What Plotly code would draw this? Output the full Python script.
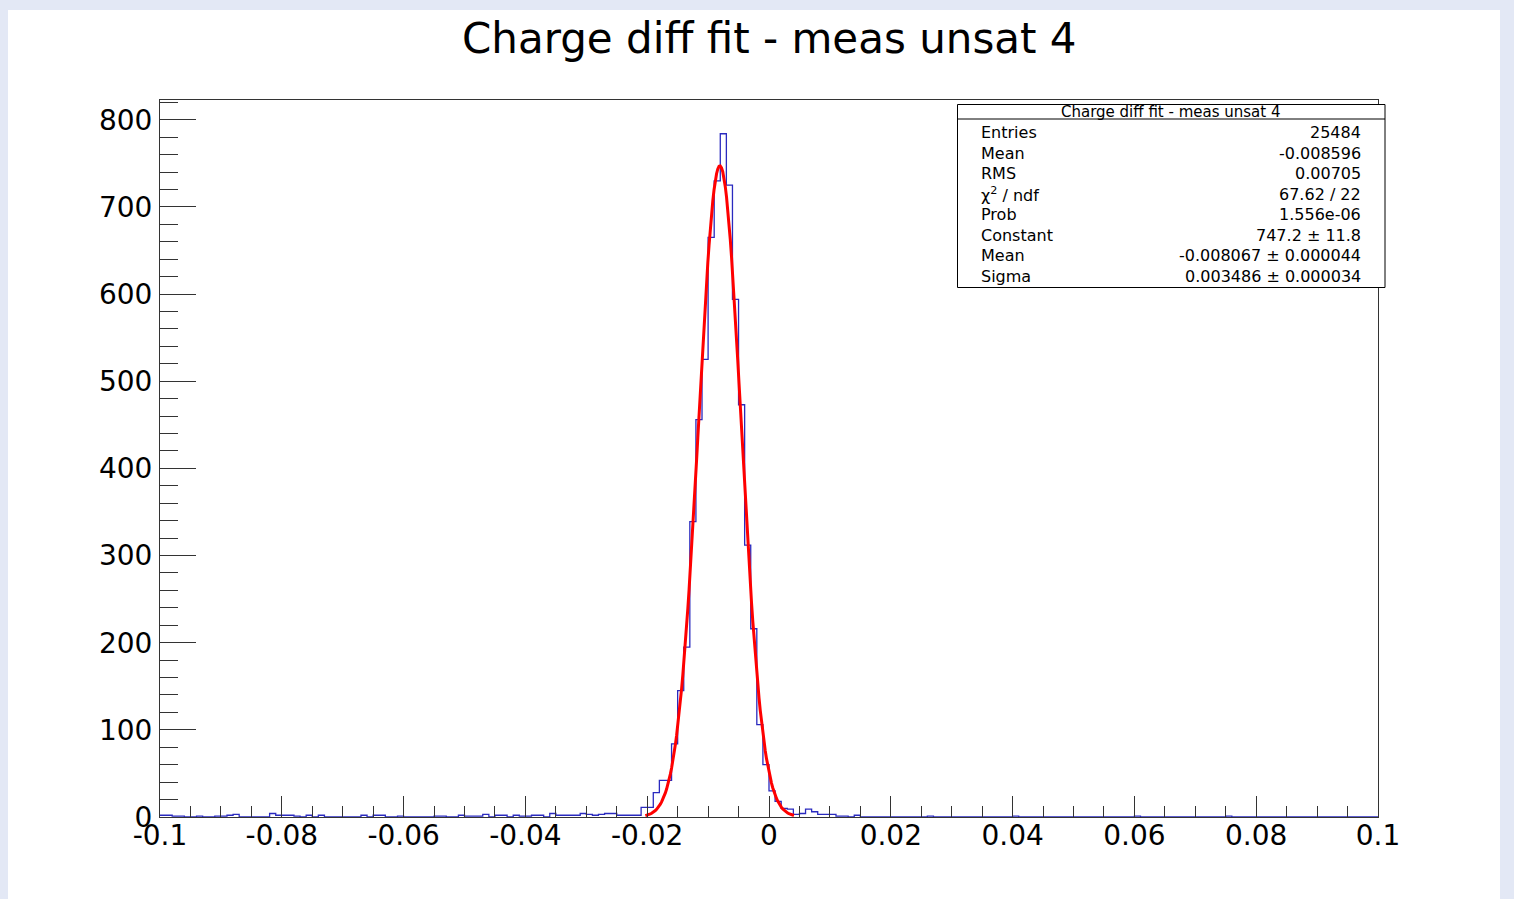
import numpy as np
import plotly.graph_objects as go

# ---------------- data ----------------
x_min, x_max, n_bins = -0.1, 0.1, 200

# bins 0..78  (x from -0.100 to -0.021)
counts_left_tail = [
    2, 2, 1, 1, 0, 0, 1, 0, 0, 1,
    1, 2, 3, 0, 0, 0, 0, 0, 4, 2,
    2, 2, 1, 0, 2, 0, 2, 0, 0, 0,
    0, 0, 0, 2, 0, 2, 2, 0, 0, 1,
    0, 0, 0, 0, 0, 1, 1, 0, 0, 2,
    1, 1, 1, 3, 0, 2, 2, 0, 2, 1,
    1, 2, 2, 0, 4, 2, 2, 2, 2, 4,
    3, 2, 3, 4, 4, 2, 2, 2, 2,
]
# bins 79..114 (x from -0.021 to 0.015)
counts_core = [
    11, 11, 28, 42, 42, 84, 145, 195, 339, 456,
    525, 665, 730, 784, 725, 594, 473, 312, 216, 106,
    60, 30, 18, 10, 9, 3, 4, 9, 6, 3,
    3, 3, 1, 1, 0, 2,
]
# bins 115..199 (x from 0.015 to 0.100)
counts_right_tail = [
    0, 0, 0, 0, 0, 0, 0, 0, 0, 0,
    0, 1, 0, 0, 0, 0, 0, 0, 0, 0,
    0, 0, 0, 0, 0, 1, 0, 0, 0, 0,
    0, 0, 0, 0, 0, 0, 0, 0, 0, 0,
    0, 0, 0, 0, 0, 1, 0, 0, 0, 0,
    0, 0, 0, 0, 0, 0, 0, 0, 0, 0,
    1, 0, 0, 0, 0, 0, 0, 0, 0, 0,
    0, 0, 0, 0, 0, 0, 0, 0, 0, 0,
    0, 0, 0, 0, 0,
]

fit_constant = 747.2
fit_mean = -0.008067
fit_sigma = 0.003486
fit_lo, fit_hi = -0.0203, 0.0041

title_text = "Charge diff fit - meas unsat 4"
stats_title = "Charge diff fit - meas unsat 4"
stats_labels = ["Entries", "Mean", "RMS", "\u03c7<sup>2</sup> / ndf", "Prob",
                "Constant", "Mean", "Sigma"]
stats_values = ["25484", "-0.008596", "0.00705", "67.62 / 22", "1.556e-06",
                "747.2 \u00b1 11.8", "-0.008067 \u00b1 0.000044",
                "0.003486 \u00b1 0.000034"]

x_tickvals = [-0.1, -0.08, -0.06, -0.04, -0.02, 0, 0.02, 0.04, 0.06, 0.08, 0.1]
x_ticktext = ["-0.1", "-0.08", "-0.06", "-0.04", "-0.02", "0",
              "0.02", "0.04", "0.06", "0.08", "0.1"]
y_tickvals = [0, 100, 200, 300, 400, 500, 600, 700, 800]
y_ticktext = ["0", "100", "200", "300", "400", "500", "600", "700", "800"]
y_max = 822.7

# ---------------- layout geometry ----------------
W, H = 1514, 899
L, R, T, B = 160, 136, 100, 82
PW, PH = W - L - R, H - T - B


def px(xp):
    return (xp - L) / PW


def py(yp):
    return (H - B - yp) / PH


FONT = "DejaVu Sans"

counts = counts_left_tail + counts_core + counts_right_tail
edges = np.linspace(x_min, x_max, n_bins + 1)
step_y = counts + [counts[-1]]

fx = np.linspace(fit_lo, fit_hi, 120)
fy = fit_constant * np.exp(-0.5 * ((fx - fit_mean) / fit_sigma) ** 2)

fig = go.Figure()
fig.add_trace(go.Scatter(x=edges, y=step_y, mode="lines", line_shape="hv",
                         line=dict(color="#2a2abf", width=1.3),
                         showlegend=False, hoverinfo="skip"))
fig.add_trace(go.Scatter(x=fx, y=fy, mode="lines",
                         line=dict(color="#ff0000", width=3),
                         showlegend=False, hoverinfo="skip"))

shapes = [
    # white canvas over bluish window background
    dict(type="rect", xref="paper", yref="paper",
         x0=px(8), x1=px(1500), y0=py(905), y1=py(10),
         fillcolor="white", line=dict(width=0), layer="below"),
    # stats box
    dict(type="rect", xref="paper", yref="paper",
         x0=px(957.5), x1=px(1385), y0=py(287.5), y1=py(104.5),
         fillcolor="white", line=dict(color="black", width=1), layer="above"),
    dict(type="line", xref="paper", yref="paper",
         x0=px(957.5), x1=px(1385), y0=py(119), y1=py(119),
         line=dict(color="black", width=1), layer="above"),
]

annotations = [
    dict(text=title_text, xref="paper", yref="paper", x=px(769), y=py(39),
         xanchor="center", yanchor="middle", showarrow=False,
         font=dict(family=FONT, size=42, color="black")),
    dict(text=stats_title, xref="paper", yref="paper", x=px(1171), y=py(112),
         xanchor="center", yanchor="middle", showarrow=False,
         font=dict(family=FONT, size=15, color="black")),
]
row0, row_step = 133.0, 20.43
for i, (lab, val) in enumerate(zip(stats_labels, stats_values)):
    yy = py(row0 + i * row_step)
    annotations.append(dict(text=lab, xref="paper", yref="paper", x=px(979), y=yy,
                            xanchor="left", yanchor="middle", showarrow=False,
                            font=dict(family=FONT, size=16, color="black")))
    annotations.append(dict(text=val, xref="paper", yref="paper", x=px(1363), y=yy,
                            xanchor="right", yanchor="middle", showarrow=False,
                            font=dict(family=FONT, size=16, color="black")))

fig.update_layout(
    width=W, height=H,
    margin=dict(l=L, r=R, t=T, b=B, pad=0),
    paper_bgcolor="#e3e8f5",
    plot_bgcolor="white",
    shapes=shapes,
    annotations=annotations,
    showlegend=False,
)
fig.update_xaxes(
    range=[x_min, x_max], tickmode="array", tickvals=x_tickvals, ticktext=x_ticktext,
    ticks="inside", ticklen=21, tickwidth=1, tickcolor="#333333",
    minor=dict(ticks="inside", ticklen=11, tickwidth=1, tickcolor="#333333",
               tick0=-0.1, dtick=0.005, showgrid=False),
    showline=True, mirror=True, linecolor="#333333", linewidth=1,
    showgrid=False, zeroline=False,
    tickfont=dict(family=FONT, size=28, color="black"),
    ticklabelstandoff=-7,
)
fig.update_yaxes(
    range=[0, y_max], tickmode="array", tickvals=y_tickvals, ticktext=y_ticktext,
    ticks="inside", ticklen=36, tickwidth=1, tickcolor="#333333",
    minor=dict(ticks="inside", ticklen=18, tickwidth=1, tickcolor="#333333",
               tick0=0, dtick=20, showgrid=False),
    showline=True, mirror=True, linecolor="#333333", linewidth=1,
    showgrid=False, zeroline=False,
    tickfont=dict(family=FONT, size=28, color="black"),
    ticklabelstandoff=1,
)

fig.write_html("out.html")
